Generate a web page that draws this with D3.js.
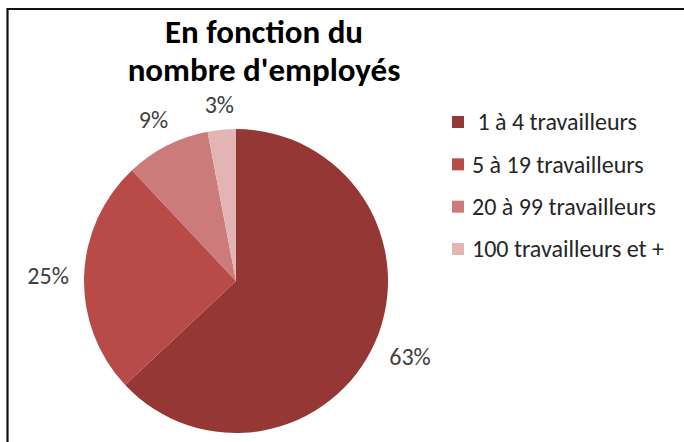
<!DOCTYPE html>
<html><head><meta charset="utf-8">
<script src="https://cdn.jsdelivr.net/npm/d3@7"></script>
<style>body{margin:0;background:#fff}svg{display:block}</style>
</head><body>
<svg id="c" width="684" height="442"></svg>
<script>
const categories = [" 1 à 4 travailleurs", "5 à 19 travailleurs", "20 à 99 travailleurs", "100 travailleurs et +"];
const values = [63, 25, 9, 3];
const labels = ["63%", "25%", "9%", "3%"];
const colors = ["#953735", "#b84a48", "#cd7b7a", "#e3b4b4"];
const titleLines = ["En fonction du", "nombre d'employés"];

const svg = d3.select("#c");
const font = "Carlito, Lato, 'Open Sans', sans-serif";

// frame
svg.append("path").attr("d", "M7.5,442 V9 H684").attr("fill", "none").attr("stroke", "#111").attr("stroke-width", 2.2);

// title
svg.append("g").selectAll("text").data(titleLines).join("text")
  .attr("x", 264).attr("y", (d, i) => 43 + i * 38)
  .attr("text-anchor", "middle").attr("font-family", font)
  .attr("font-weight", "bold").attr("font-size", 33).attr("fill", "#000").text(d => d);

const cx = 236, cy = 281, r = 152;
const pie = d3.pie().sort(null).value(d => d);
const arcs = pie(values);
const arc = d3.arc().innerRadius(0).outerRadius(r);
const g = svg.append("g").attr("transform", `translate(${cx},${cy})`);
g.selectAll("path").data(arcs).join("path")
  .attr("d", arc).attr("fill", (d, i) => colors[i]);

const lbl = g.selectAll("text").data(arcs).join("text")
  .attr("text-anchor", "middle").attr("dy", "0.35em")
  .attr("font-family", font).attr("font-size", 24).attr("fill", "#404040")
  .text((d, i) => labels[i]);
lbl.attr("transform", function(d) {
  const a = (d.startAngle + d.endAngle) / 2;
  const hw = this.getComputedTextLength() / 2, hh = 9;
  const rr = r + 15 + Math.abs(Math.sin(a)) * hw + Math.abs(Math.cos(a)) * hh;
  return `translate(${Math.sin(a) * rr},${-Math.cos(a) * rr})`;
});

// legend
const y = d3.scalePoint().domain(categories).range([122, 249]);
const lg = svg.append("g");
lg.selectAll("rect").data(categories).join("rect")
  .attr("x", 452).attr("y", d => y(d) - 6).attr("width", 12).attr("height", 12)
  .attr("fill", (d, i) => colors[i]);
lg.selectAll("text").data(categories).join("text")
  .attr("x", 472).attr("y", d => y(d)).attr("dy", "0.35em")
  .attr("font-family", font).attr("font-size", 24).attr("fill", "#262626")
  .attr("xml:space", "preserve").style("white-space", "pre")
  .text(d => d);
</script>
</body></html>
